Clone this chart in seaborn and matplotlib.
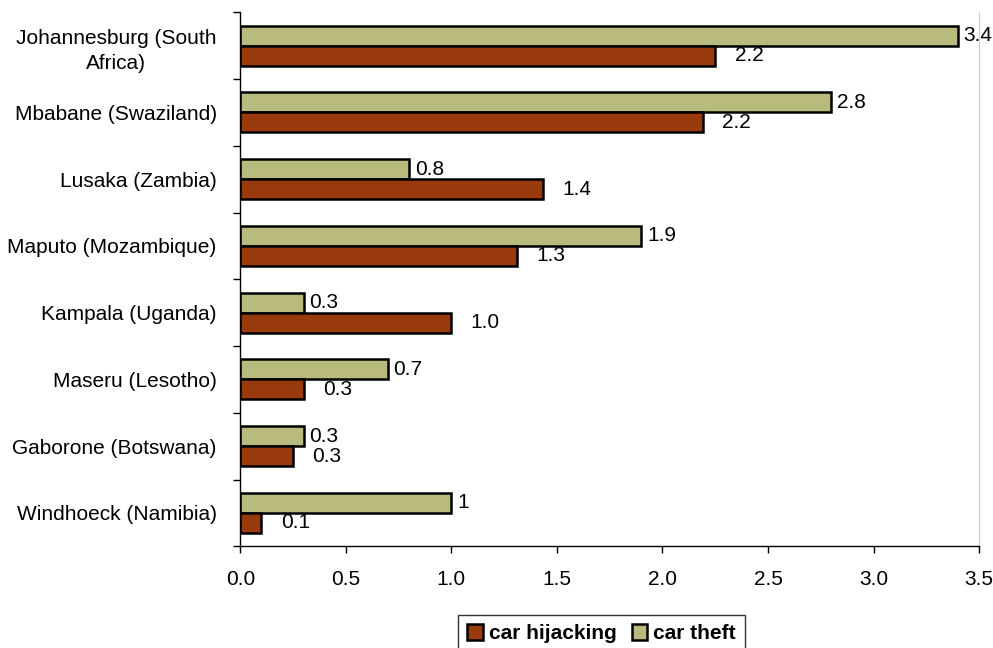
import numpy as np
import pandas as pd
import seaborn as sns
import matplotlib.pyplot as plt
from matplotlib.patches import Patch

cities = ['Johannesburg (South\nAfrica)', 'Mbabane (Swaziland)', 'Lusaka (Zambia)',
          'Maputo (Mozambique)', 'Kampala (Uganda)', 'Maseru (Lesotho)',
          'Gaborone (Botswana)', 'Windhoeck (Namibia)']
car_theft = [3.4, 2.8, 0.8, 1.9, 0.3, 0.7, 0.3, 1.0]
car_hijacking = [2.25, 2.19, 1.435, 1.31, 1.0, 0.3, 0.25, 0.1]
theft_labels = ['3.4', '2.8', '0.8', '1.9', '0.3', '0.7', '0.3', '1']
hijack_labels = ['2.2', '2.2', '1.4', '1.3', '1.0', '0.3', '0.3', '0.1']
x_ticks = [0.0, 0.5, 1.0, 1.5, 2.0, 2.5, 3.0, 3.5]

df = pd.DataFrame({
    'city': cities * 2,
    'value': car_theft + car_hijacking,
    'type': ['car theft'] * len(cities) + ['car hijacking'] * len(cities),
})

sns.set_style('ticks')
plt.rcParams['font.family'] = ['Liberation Sans', 'DejaVu Sans']
plt.rcParams['text.color'] = 'black'
plt.rcParams['xtick.color'] = 'black'
plt.rcParams['ytick.color'] = 'black'
plt.rcParams['axes.edgecolor'] = 'black'

colors = {'car theft': '#B9BA7D', 'car hijacking': '#993A0C'}
fs = 15

fig, ax = plt.subplots(figsize=(9.93, 6.48), dpi=100)
fig.subplots_adjust(left=0.242, right=0.986, top=0.981, bottom=0.157)

sns.barplot(data=df, y='city', x='value', hue='type', orient='h',
            hue_order=['car theft', 'car hijacking'], palette=colors, saturation=1,
            width=0.6, edgecolor='black', linewidth=1.8, ax=ax, legend=False)

ax.bar_label(ax.containers[0], labels=theft_labels, padding=4, fontsize=fs)
ax.bar_label(ax.containers[1], labels=hijack_labels, padding=14, fontsize=fs)

ax.set_xlim(0, 3.5)
ax.set_ylim(7.5, -0.5)
ax.set_xticks(x_ticks)
ax.set_xticklabels([f'{t:.1f}' for t in x_ticks], fontsize=fs)
ax.tick_params(axis='x', length=5, width=1, pad=12)
ax.set_yticks(np.arange(-0.5, 8, 1), minor=True)
ax.tick_params(axis='y', which='major', length=0, labelsize=fs, pad=17)
ax.tick_params(axis='y', which='minor', length=5, width=1)
for lab in ax.get_yticklabels():
    lab.set_multialignment('center')
    lab.set_linespacing(1.45)
ax.set_xlabel('')
ax.set_ylabel('')

ax.spines['top'].set_visible(False)
ax.spines['right'].set_color('#cccccc')
ax.spines['right'].set_linewidth(0.8)
ax.spines['left'].set_linewidth(1)
ax.spines['bottom'].set_linewidth(1)

handles = [Patch(facecolor=colors['car hijacking'], edgecolor='black', linewidth=1.8),
           Patch(facecolor=colors['car theft'], edgecolor='black', linewidth=1.8)]
leg = fig.legend(handles, ['car hijacking', 'car theft'], loc='center',
                 bbox_to_anchor=(0.606, 0.022), ncol=2, frameon=True, fancybox=False,
                 edgecolor='black', handlelength=0.75, handleheight=0.75,
                 handletextpad=0.3, columnspacing=0.7, borderpad=0.45,
                 prop={'weight': 'bold', 'size': fs})
leg.get_frame().set_linewidth(1)

plt.savefig('out.png')
